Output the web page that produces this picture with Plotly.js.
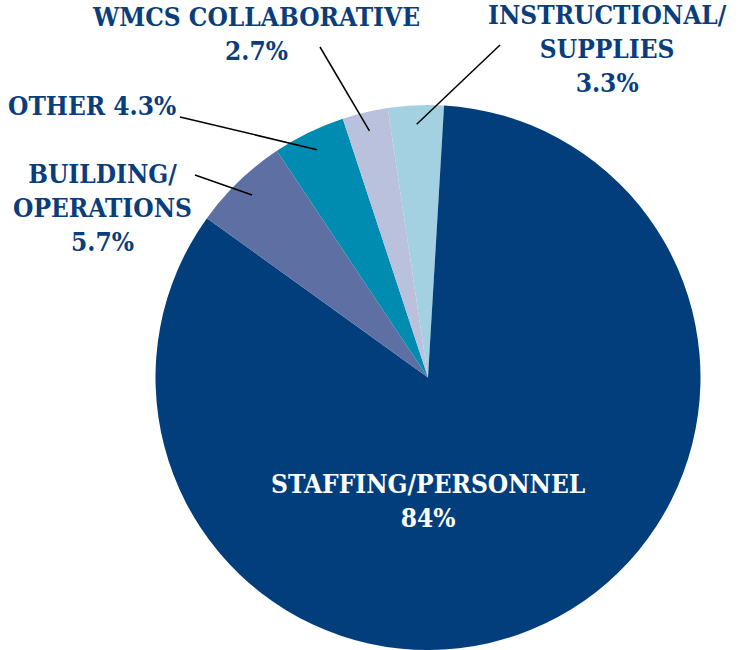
<!DOCTYPE html>
<html>
<head>
<meta charset="utf-8">
<script src="https://cdn.plot.ly/plotly-3.0.1.min.js"></script>
<style>html,body{margin:0;padding:0;background:#fff;}#chart{width:745px;height:650px;}</style>
</head>
<body>
<div id="chart"></div>
<script>
// Data
const categories = ["INSTRUCTIONAL/<br>SUPPLIES", "STAFFING/PERSONNEL", "BUILDING/<br>OPERATIONS", "OTHER", "WMCS COLLABORATIVE"];
const shortNames = ["Instructional/Supplies", "Staffing/Personnel", "Building/Operations", "Other", "WMCS Collaborative"];
const values = [3.3, 84, 5.7, 4.3, 2.7];
const valueLabels = ["3.3%", "84%", "5.7%", "4.3%", "2.7%"];
const colors = ["#a3d1e1", "#023e7c", "#5e70a3", "#008cb0", "#b9c1dc"];

// Layout geometry (pixels)
const W = 745, H = 650;
const cx = 428, cy = 377.5, R = 272.5;
const rotation = -8.5;
const labelFont = {family: "DejaVu Serif Condensed, DejaVu Serif, serif", size: 26, color: "#0a3d7c", weight: 700};

function px2x(px){ return px / W; }
function py2y(py){ return 1 - py / H; }

// label layout: [text, centerX, centerY, tailX, tailY, color]
const labelLayout = [
  {i: 0, text: categories[0] + "<br>" + valueLabels[0], lx: 607, ly: 49, tx: 500, ty: 45},
  {i: 1, text: categories[1] + "<br>" + valueLabels[1], lx: 428, ly: 501, tx: null, ty: null, color: "#ffffff"},
  {i: 2, text: categories[2] + "<br>" + valueLabels[2], lx: 102, ly: 208, tx: 195, ty: 175},
  {i: 3, text: categories[3] + " " + valueLabels[3], lx: 92, ly: 106, tx: 180, ty: 117},
  {i: 4, text: categories[4] + "<br>" + valueLabels[4], lx: 256, ly: 34, tx: 320, ty: 47}
];

// mid-angles from data (clockwise from 12 o'clock)
const total = values.reduce((a, b) => a + b, 0);
const midAngles = [];
let acc = rotation;
values.forEach(v => { const span = v / total * 360; midAngles.push(acc + span / 2); acc += span; });

const annotations = [];
const shapes = [];
labelLayout.forEach(L => {
  annotations.push({
    xref: "paper", yref: "paper", x: px2x(L.lx), y: py2y(L.ly),
    xanchor: "center", yanchor: "middle", showarrow: false,
    text: L.text, align: "center",
    font: Object.assign({}, labelFont, L.color ? {color: L.color} : {})
  });
  if (L.tx !== null) {
    const th = midAngles[L.i] * Math.PI / 180;
    const r = R * 0.93;
    const hx = cx + r * Math.sin(th), hy = cy - r * Math.cos(th);
    shapes.push({type: "line", xref: "paper", yref: "paper",
      x0: px2x(L.tx), y0: py2y(L.ty), x1: px2x(hx), y1: py2y(hy),
      line: {color: "#000000", width: 1.5}});
  }
});

const trace = {
  type: "pie",
  labels: shortNames,
  values: values,
  sort: false,
  direction: "clockwise",
  rotation: rotation,
  marker: {colors: colors, line: {width: 0}},
  textinfo: "none",
  hoverinfo: "label+percent",
  showlegend: false,
  domain: {x: [(cx - R) / W, (cx + R) / W], y: [0, 2 * R / H]}
};

const layout = {
  width: W, height: H,
  margin: {l: 0, r: 0, t: 0, b: 0},
  paper_bgcolor: "#ffffff",
  showlegend: false,
  annotations: annotations,
  shapes: shapes
};

Plotly.newPlot("chart", [trace], layout, {displayModeBar: false, staticPlot: true});
</script>
</body>
</html>
